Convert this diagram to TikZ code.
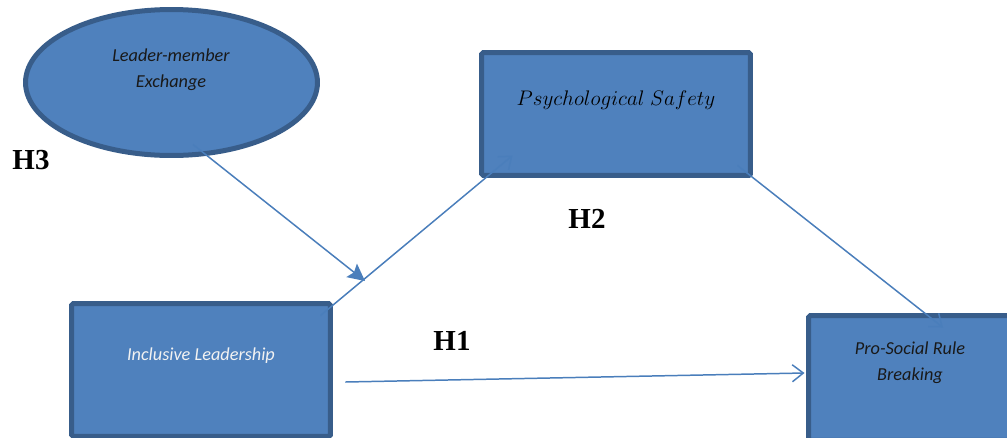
\documentclass[tikz,border=0pt]{standalone}
\usepackage{fontspec}
\setmainfont{Liberation Serif}
\newfontfamily\calibfont{Carlito}
\usetikzlibrary{arrows.meta,positioning,shapes.geometric,calc}
\definecolor{BoxFill}{HTML}{4F81BD}
\definecolor{BoxLine}{HTML}{385D8A}
\definecolor{LinkLine}{HTML}{4A7EBB}

\begin{document}
\begin{tikzpicture}[x=0.02cm,y=-0.02cm]
    \tikzset{box/.style={draw=BoxLine,fill=BoxFill,line width=0.1cm,rounded corners=1pt,inner sep=0pt},
      boxtext/.style={font=\calibfont\itshape\fontsize{10.4}{14.6}\selectfont,align=center,inner sep=0pt},
      hyp/.style={font=\bfseries\fontsize{16.5}{18}\selectfont,inner sep=0pt},
      link/.style={draw=LinkLine,line width=0.85pt,-{Straight Barb[length=0.22cm,width=0.34cm]}}}
    \clip (0,0) rectangle (1007,437);
    % constructs
    \node[box,ellipse,minimum width=5.84cm,minimum height=2.92cm] (lmx) at (171.5,82.5) {};
    \node[box,minimum width=5.38cm,minimum height=2.46cm] (ps) at (616,114) {};
    \node[box,minimum width=5.18cm,minimum height=2.66cm] (il) at (201,370) {};
    \node[box,minimum width=4.06cm,minimum height=2.5cm] (psrb) at (910,378) {};
    \node[boxtext,text=black!90] (lmxtext) at (171,70) {Leader-member\\Exchange};
    \node[inner sep=0pt,font=\fontsize{13}{15}\selectfont] (pstext) at (616,100) {$Psychological\ Safety$};
    \node[boxtext,text=white!95!black] (iltext) at (201,356) {Inclusive Leadership};
    \node[boxtext,text=black!90] (psrbtext) at (910,363) {Pro-Social Rule\\Breaking};
    % hypotheses
    \node[hyp] (h3) at (31,160) {H3};
    \node[hyp] (h2) at (587,219) {H2};
    \node[hyp] (h1) at (452,341) {H1};
    % paths
    \coordinate (modtip) at (365,281);
    \draw[link] ([shift={(-12.5,14.5)}]il.north east) -- ([shift={(33.5,-22.5)}]ps.south west);
    \draw[link] ([shift={(-15.5,-12.5)}]ps.south east) -- ([shift={(33,14.5)}]psrb.north);
    \draw[link] ([shift={(12.5,12)}]il.east) -- ([shift={(-1.5,-5)}]psrb.west);
    \draw[draw=LinkLine,line width=0.85pt,-{Stealth[length=0.34cm,width=0.34cm,inset=0.06cm]}]
      ([shift={(21.5,-13.5)}]lmx.south) -- (modtip);
\end{tikzpicture}
\end{document}
